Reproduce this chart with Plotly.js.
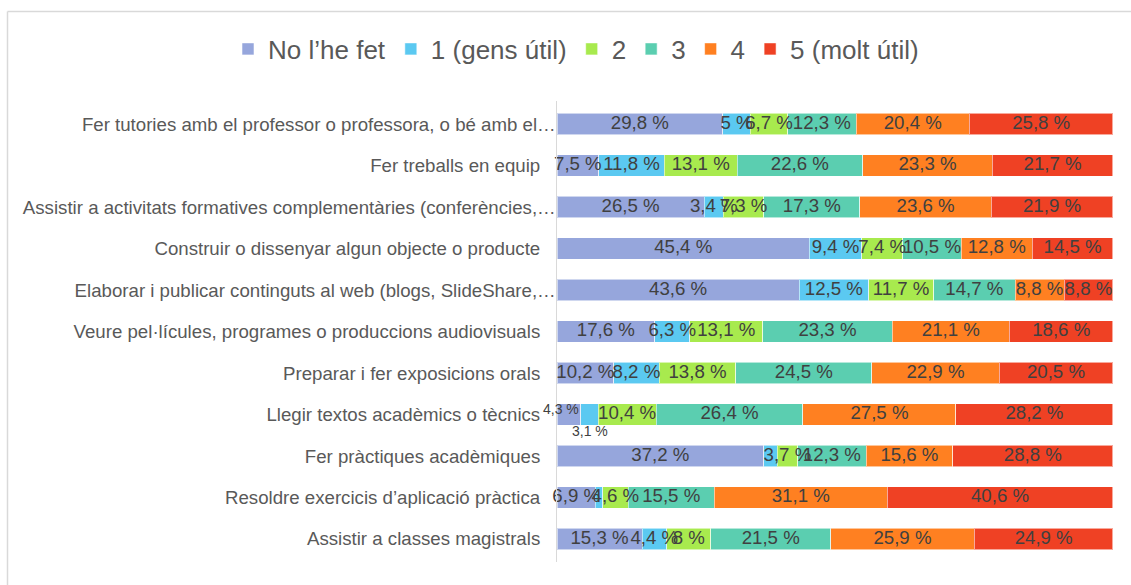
<!DOCTYPE html>
<html>
<head>
<meta charset="utf-8">
<script src="https://cdn.plot.ly/plotly-3.0.1.min.js"></script>
<style>
  html, body { margin: 0; padding: 0; background: #ffffff; }
  #chart { width: 1131px; height: 585px; }
</style>
</head>
<body>
<div id="chart"></div>
<script>
// Categories, top to bottom as shown in the chart
const categories = [
  "Fer tutories amb el professor o professora, o bé amb el…",
  "Fer treballs en equip",
  "Assistir a activitats formatives complementàries (conferències,…",
  "Construir o dissenyar algun objecte o producte",
  "Elaborar i publicar continguts al web (blogs, SlideShare,…",
  "Veure pel·lícules, programes o produccions audiovisuals",
  "Preparar i fer exposicions orals",
  "Llegir textos acadèmics o tècnics",
  "Fer pràctiques acadèmiques",
  "Resoldre exercicis d’aplicació pràctica",
  "Assistir a classes magistrals"
];

const seriesNames = ["No l’he fet", "1 (gens útil)", "2", "3", "4", "5 (molt útil)"];

const noHeFet  = [29.8, 7.5, 26.5, 45.4, 43.6, 17.6, 10.2, 4.3, 37.2, 6.9, 15.3];
const gensUtil = [5, 11.8, 3.4, 9.4, 12.5, 6.3, 8.2, 3.1, 2.4, 1.3, 4.4];
const val2     = [6.7, 13.1, 7.3, 7.4, 11.7, 13.1, 13.8, 10.4, 3.7, 4.6, 8];
const val3     = [12.3, 22.6, 17.3, 10.5, 14.7, 23.3, 24.5, 26.4, 12.3, 15.5, 21.5];
const val4     = [20.4, 23.3, 23.6, 12.8, 8.8, 21.1, 22.9, 27.5, 15.6, 31.1, 25.9];
const moltUtil = [25.8, 21.7, 21.9, 14.5, 8.8, 18.6, 20.5, 28.2, 28.8, 40.6, 24.9];

const seriesValues = [noHeFet, gensUtil, val2, val3, val4, moltUtil];
const seriesColors = ["#96A6DC", "#5BC9F1", "#A8EA4E", "#5BCEB0", "#FF8021", "#EF4124"];

// labels not drawn: [series index, category index]
const hiddenLabels = [[1, 8], [1, 9]];
// labels drawn displaced from their segment: [series index, category index, yshift px]
const displacedLabels = [[0, 7, 5], [1, 7, -17]];

function fmt(v) { return String(v).replace(".", ",") + " %"; }
function isIn(list, s, i) { return list.some(p => p[0] === s && p[1] === i); }

const FONT = "'Liberation Sans', Arial, sans-serif";
const LABEL_SIZE = 18.67;

// row totals (chart is 100 % stacked)
const totals = categories.map((_, i) => seriesValues.reduce((a, sv) => a + sv[i], 0));
const norm = (s, i) => seriesValues[s][i] / totals[i] * 100;
const startOf = (s, i) => { let a = 0; for (let k = 0; k < s; k++) a += norm(k, i); return a; };

const barTraces = seriesValues.map((vals, s) => ({
  type: "bar",
  orientation: "h",
  name: seriesNames[s],
  y: categories,
  x: vals,
  marker: { color: seriesColors[s], line: { color: "rgba(255,255,255,0.55)", width: 1 } },
  hoverinfo: "none"
}));

// data labels drawn on top of all bars, centred in each segment
const labelTraces = seriesValues.map((vals, s) => ({
  type: "scatter",
  mode: "text",
  showlegend: false,
  y: categories,
  x: vals.map((v, i) => startOf(s, i) + norm(s, i) / 2),
  text: vals.map((v, i) => (isIn(hiddenLabels, s, i) || isIn(displacedLabels, s, i)) ? "" : fmt(v)),
  textposition: "middle center",
  textfont: { family: FONT, size: LABEL_SIZE, color: "#404040" },
  cliponaxis: false,
  hoverinfo: "none"
}));

const annotations = displacedLabels.map(([s, i, ys]) => {
  const isFirst = s === 0;
  return {
    xref: "x", yref: "y",
    x: isFirst ? startOf(s, i) + norm(s, i) : startOf(s, i) + norm(s, i) / 2,
    y: categories[i],
    xanchor: isFirst ? "right" : "center",
    yanchor: "middle",
    yshift: ys,
    showarrow: false,
    text: fmt(seriesValues[s][i]),
    font: { family: FONT, size: 14, color: "#404040" }
  };
});

const W = 1131, H = 585;
const M = { l: 557, r: 18, t: 101, b: 23, autoexpand: false };
const pw = W - M.l - M.r, ph = H - M.t - M.b;
const px2x = p => (p - M.l) / pw;
const py2y = p => (H - M.b - p) / ph;

const frameColor = "#D9D9D9";
const shapes = [
  { type: "line", xref: "paper", yref: "paper", x0: px2x(7.5), x1: px2x(W + 5), y0: py2y(11.5), y1: py2y(11.5),
    line: { color: frameColor, width: 1.5 } },
  { type: "line", xref: "paper", yref: "paper", x0: px2x(7.5), x1: px2x(7.5), y0: py2y(11.5), y1: py2y(H + 5),
    line: { color: frameColor, width: 1.5 } }
];

const tickText = categories.map(c => c.endsWith("…") ? c : c + "\u00a0\u00a0\u00a0");

const layout = {
  width: W, height: H,
  margin: M,
  paper_bgcolor: "#ffffff",
  plot_bgcolor: "rgba(0,0,0,0)",
  barmode: "stack",
  barnorm: "percent",
  bargap: 0.48,
  font: { family: FONT, color: "#595959" },
  showlegend: true,
  legend: {
    orientation: "h",
    xref: "paper", yref: "paper",
    x: px2x(228), xanchor: "left",
    y: py2y(49), yanchor: "middle",
    traceorder: "normal",
    bgcolor: "rgba(0,0,0,0)",
    font: { family: FONT, size: 26, color: "#595959" },
    itemclick: false, itemdoubleclick: false
  },
  xaxis: {
    range: [0, 100.02],
    showgrid: false, zeroline: false, showticklabels: false, showline: false, ticks: ""
  },
  yaxis: {
    type: "category",
    autorange: "reversed",
    showline: true, linecolor: frameColor, linewidth: 1.5,
    ticks: "",
    tickmode: "array",
    tickvals: categories,
    ticktext: tickText,
    ticklabelstandoff: -4,
    tickfont: { family: FONT, size: 18.67, color: "#595959" },
    showgrid: false, zeroline: false
  },
  shapes: shapes,
  annotations: annotations
};

Plotly.newPlot("chart", barTraces.concat(labelTraces), layout, { displayModeBar: false, staticPlot: true });
</script>
</body>
</html>
